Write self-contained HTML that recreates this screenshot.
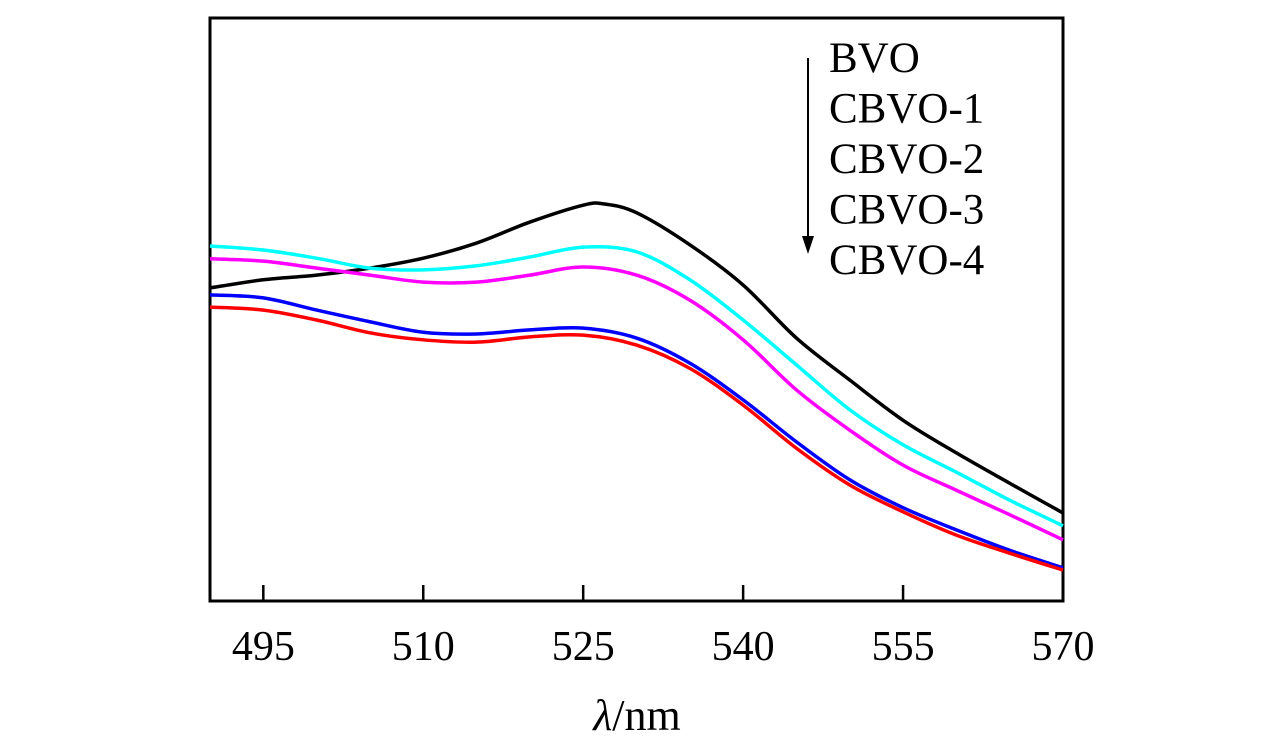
<!DOCTYPE html>
<html><head><meta charset="utf-8"><style>
body{margin:0;background:#fff;}
svg{display:block;font-family:"Liberation Serif",serif;}
</style></head><body>
<svg id="chart" width="1276" height="752">
<rect x="210" y="18" width="853" height="583" fill="none" stroke="#000" stroke-width="3"/>
<g id="ticks"></g>
<g id="series"></g>
<text x="637" y="730" font-size="44" text-anchor="middle"><tspan font-style="italic">λ</tspan>/nm</text>
<g>
<line x1="808" y1="58" x2="808" y2="240" stroke="#000" stroke-width="2"/>
<polygon points="802,236 814,236 808,254" fill="#000"/>
<g id="legend-text" font-size="43"></g>
</g>
</svg>
<script>
const xCats=[490,495,500,505,510,515,520,525,530,535,540,545,550,555,560,565,570];
const xBlack=[490,495,500,505,510,515,520,525,527,530,535,540,545,550,555,560,565,570];
const bvo=[53.7,55.1,55.9,57.1,58.8,61.4,65.0,67.9,68.1,66.6,61.1,54.2,45.1,37.9,31.0,25.4,20.2,15.1];
const cbvo1=[60.9,60.2,58.8,57.1,56.8,57.5,59.0,60.7,59.9,55.1,48.2,40.5,32.8,26.8,22.1,17.3,12.9];
const cbvo2=[58.7,58.3,57.1,55.9,54.7,54.7,55.9,57.3,55.9,51.6,44.8,36.2,29.3,23.3,19.0,14.8,10.5];
const cbvo3=[52.5,52.0,49.9,47.9,46.1,45.8,46.5,46.8,45.1,40.8,34.5,27.3,20.8,16.0,12.2,8.7,5.7];
const cbvo4=[50.4,49.9,48.2,46.0,44.8,44.4,45.3,45.6,43.9,39.9,33.6,26.2,19.9,15.3,11.3,8.2,5.3];
const legendLabels=["BVO","CBVO-1","CBVO-2","CBVO-3","CBVO-4"];
const xTicks=[495,510,525,540,555,570];
const NS="http://www.w3.org/2000/svg";
const xS=v=>210+(v-490)/80*853;
const yS=v=>601-v*5.83;
const tg=document.getElementById('ticks');
xTicks.forEach(t=>{
 const l=document.createElementNS(NS,'line');
 l.setAttribute('x1',xS(t));l.setAttribute('x2',xS(t));l.setAttribute('y1',601);l.setAttribute('y2',585);
 l.setAttribute('stroke','#000');l.setAttribute('stroke-width','2.5');
 
 
 tg.appendChild(l);
 const tx=document.createElementNS(NS,'text');
 tx.setAttribute('x',xS(t));tx.setAttribute('y',660);tx.setAttribute('font-size','42');tx.setAttribute('text-anchor','middle');
 tx.textContent=t;
 
 
 tg.appendChild(tx);
});
function path(xs,ys){
 const p=xs.map((x,i)=>[xS(x),yS(ys[i])]);
 let d='M'+p[0][0]+','+p[0][1];
 for(let i=0;i<p.length-1;i++){
  const p0=p[Math.max(i-1,0)],p1=p[i],p2=p[i+1],p3=p[Math.min(i+2,p.length-1)];
  const c1=[p1[0]+(p2[0]-p0[0])/6,p1[1]+(p2[1]-p0[1])/6];
  const c2=[p2[0]-(p3[0]-p1[0])/6,p2[1]-(p3[1]-p1[1])/6];
  d+=' C'+c1[0]+','+c1[1]+' '+c2[0]+','+c2[1]+' '+p2[0]+','+p2[1];
 }
 return d;
}
const sg=document.getElementById('series');
const defs=[[xBlack,bvo,'#000','line-bvo'],[xCats,cbvo1,'#00ffff','line-cbvo-1'],[xCats,cbvo2,'#ff00ff','line-cbvo-2'],[xCats,cbvo3,'#0000ff','line-cbvo-3'],[xCats,cbvo4,'#ff0000','line-cbvo-4']];
defs.forEach(s=>{
 const e=document.createElementNS(NS,'path');
 e.setAttribute('d',path(s[0],s[1]));e.setAttribute('fill','none');e.setAttribute('stroke',s[2]);e.setAttribute('stroke-width','3.5');
 
 
 sg.appendChild(e);
});
const lg=document.getElementById('legend-text');
legendLabels.forEach((t,i)=>{
 const e=document.createElementNS(NS,'text');
 e.setAttribute('x',829);e.setAttribute('y',72+i*50.5);
 e.textContent=t;
 
 
 lg.appendChild(e);
});
</script>
</body></html>
